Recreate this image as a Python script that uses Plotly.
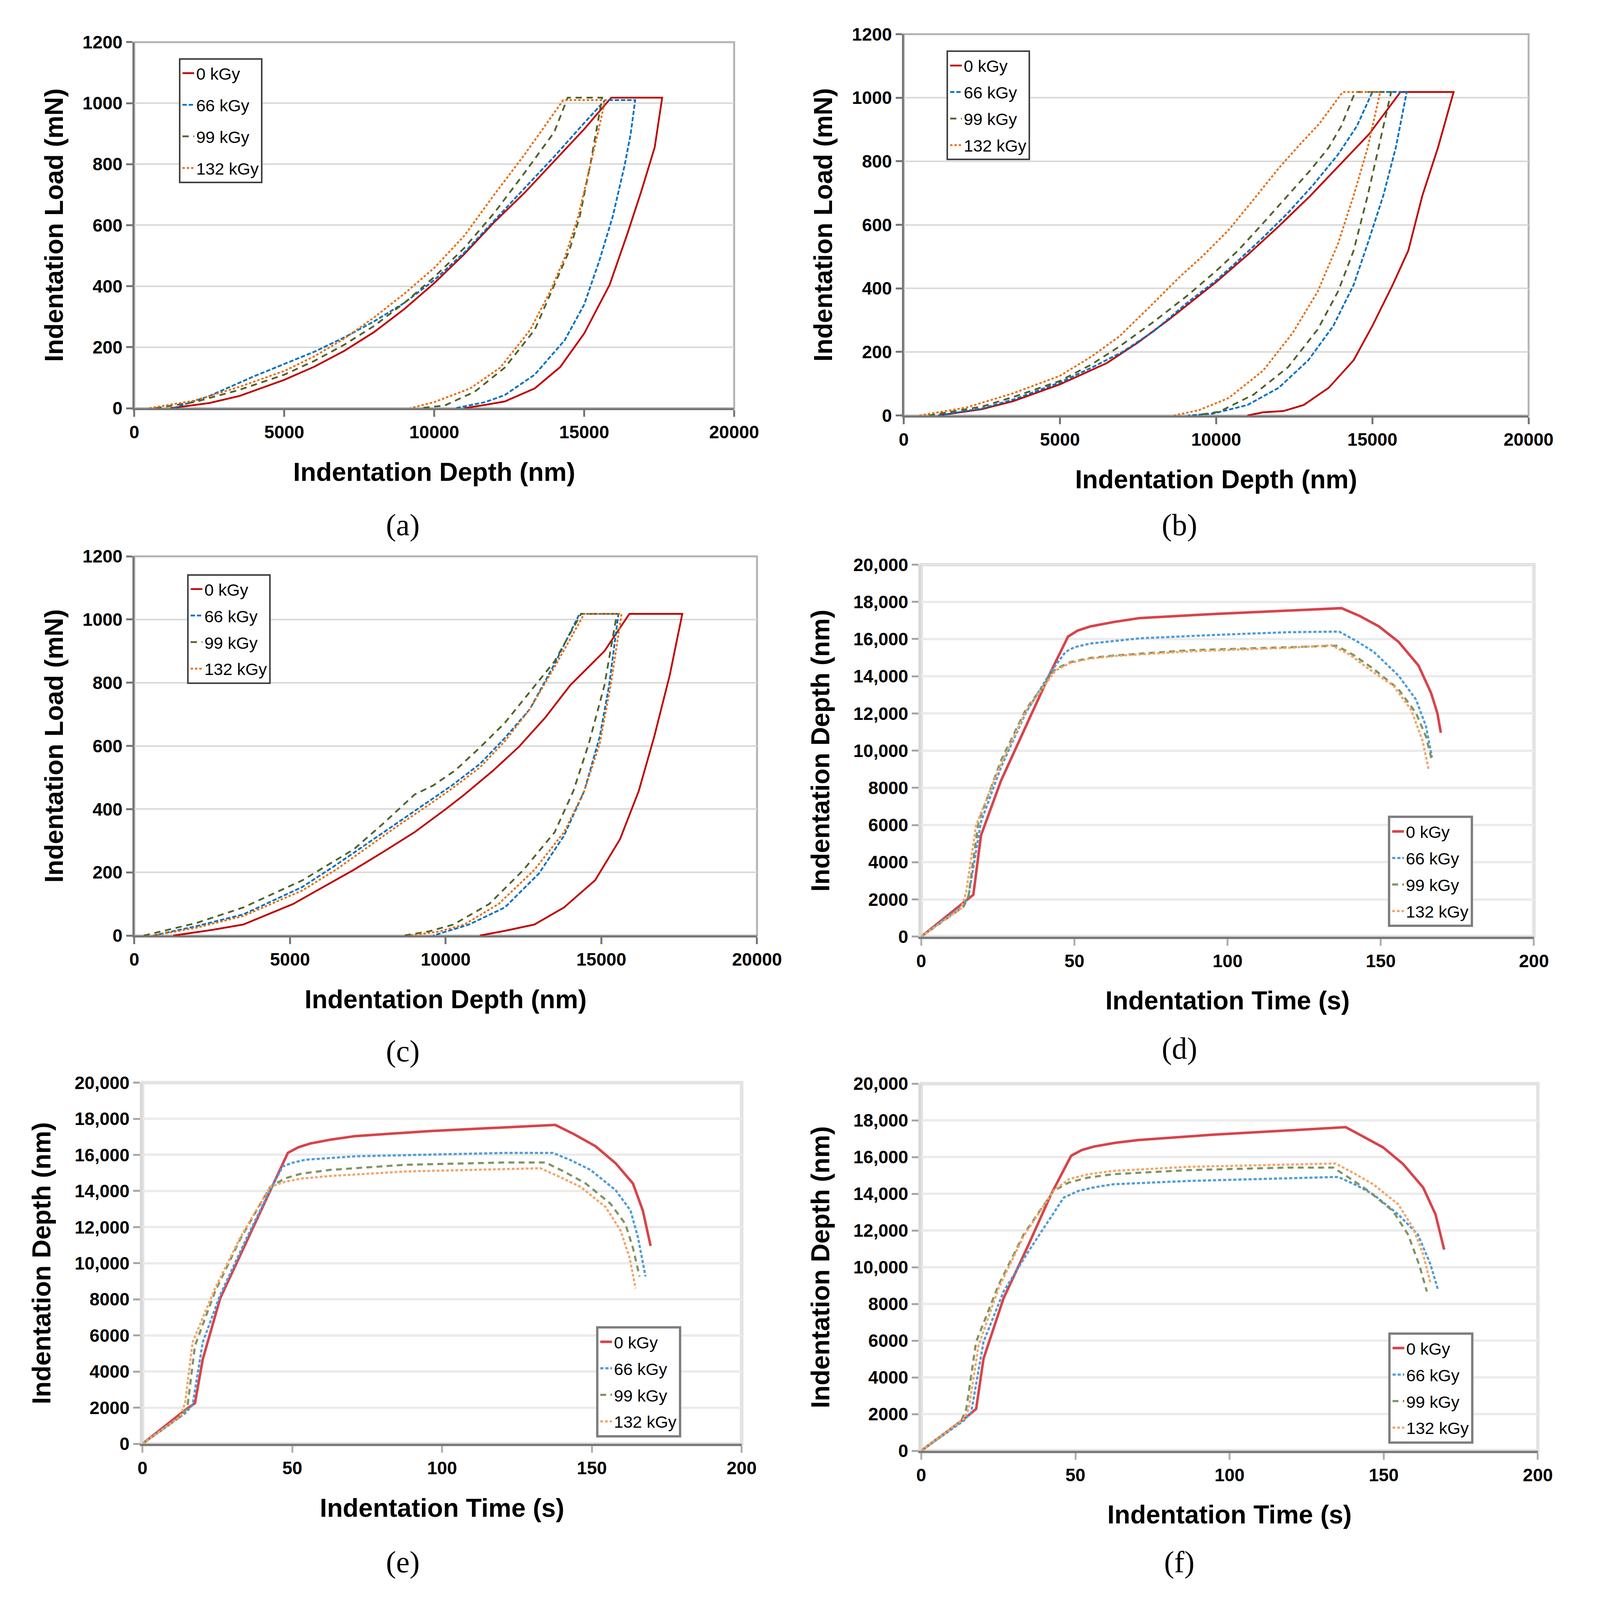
import plotly.graph_objects as go

# ---------------------------------------------------------------- data
DOSES = ["0 kGy", "66 kGy", "99 kGy", "132 kGy"]
CAPTIONS = ["(a)", "(b)", "(c)", "(d)", "(e)", "(f)"]

X_TITLE_DEPTH = "Indentation Depth (nm)"
Y_TITLE_LOAD = "Indentation Load (mN)"
X_TITLE_TIME = "Indentation Time (s)"
Y_TITLE_DEPTH = "Indentation Depth (nm)"

DEPTH_TICKS = [0, 5000, 10000, 15000, 20000]
DEPTH_TICK_LABELS = ["0", "5000", "10000", "15000", "20000"]
LOAD_TICKS = [0, 200, 400, 600, 800, 1000, 1200]
LOAD_TICK_LABELS = ["0", "200", "400", "600", "800", "1000", "1200"]
TIME_TICKS = [0, 50, 100, 150, 200]
TIME_TICK_LABELS = ["0", "50", "100", "150", "200"]
TDEPTH_TICKS = [0, 2000, 4000, 6000, 8000, 10000, 12000, 14000, 16000, 18000, 20000]
TDEPTH_TICK_LABELS = ["0", "2000", "4000", "6000", "8000", "10,000", "12,000",
                      "14,000", "16,000", "18,000", "20,000"]

# (a) load (mN) vs depth (nm)
A_D0 = [1200, 2500, 3500, 5000, 6000, 7000, 8000, 9000, 10000, 11000, 12000, 13000, 14000, 15000, 15900,
        17600, 17350, 16900, 16450, 15850, 15000, 14200, 13350, 12350, 11700, 11000]
A_L0 = [0, 17, 40, 93, 136, 188, 250, 325, 410, 505, 610, 705, 810, 915, 1018,
        1018, 855, 710, 575, 405, 245, 135, 65, 22, 11, 0]
A_D66 = [1300, 2500, 4000, 5000, 6000, 7000, 8000, 9000, 10000, 11000, 12000, 13000, 14000, 15000, 15700,
         16700, 16550, 16350, 15950, 15500, 15000, 14350, 13350, 12350, 11700, 10700]
A_L66 = [0, 40, 105, 145, 185, 232, 285, 345, 420, 510, 615, 720, 825, 935, 1010,
         1010, 900, 797, 628, 482, 340, 223, 110, 43, 20, 0]
A_D99 = [700, 2000, 3500, 5000, 6000, 7000, 8000, 9000, 10000, 11000, 12000, 13000, 14000, 14450,
         15600, 15400, 15200, 14850, 14500, 14000, 13350, 12350, 11350, 10350, 9500]
A_L99 = [0, 20, 60, 110, 155, 208, 270, 345, 430, 525, 640, 770, 905, 1018,
         1018, 910, 797, 628, 516, 403, 257, 133, 54, 9, 0]
A_D132 = [500, 2000, 3500, 5000, 6000, 7000, 8000, 9000, 10000, 11000, 12000, 13000, 14300,
          15700, 15450, 15200, 14800, 14350, 13850, 13200, 12200, 11200, 10000, 9200]
A_L132 = [0, 25, 70, 122, 170, 228, 298, 375, 460, 565, 700, 830, 1010,
          1010, 900, 797, 628, 493, 380, 257, 133, 65, 20, 0]

# (b)
B_D0 = [1100, 2500, 3500, 5000, 6500, 7500, 8500, 9000, 10000, 11000, 12000, 13000, 13900, 14900, 15900,
        17600, 17100, 16600, 16150, 15650, 15000, 14400, 13600, 12800, 12150, 11500, 11000]
B_L0 = [0, 20, 45, 98, 165, 230, 303, 342, 420, 505, 595, 690, 783, 886, 1018,
        1018, 843, 692, 519, 411, 282, 174, 87, 33, 14, 10, 0]
B_D66 = [1100, 2500, 3500, 5000, 6000, 7000, 8000, 9100, 10000, 10700, 11500, 12300, 13100, 13900, 14500, 15000,
         16100, 15750, 15350, 14850, 14400, 13750, 12950, 12000, 11000, 9900, 9100]
B_L66 = [0, 22, 50, 104, 150, 200, 265, 357, 425, 487, 560, 638, 725, 821, 910, 1018,
         1018, 843, 692, 541, 411, 282, 174, 87, 33, 6, 0]
B_D99 = [800, 2500, 3500, 5000, 6000, 6900, 8000, 9100, 10000, 10700, 11500, 12300, 13000, 13600, 14000, 14450,
         15600, 15200, 14850, 14400, 13900, 13250, 12300, 11200, 10100, 9300]
B_L99 = [0, 28, 58, 109, 160, 217, 295, 379, 455, 519, 605, 692, 770, 843, 910, 1018,
         1018, 843, 692, 519, 390, 271, 152, 66, 12, 0]
B_D132 = [500, 2000, 3500, 5000, 6000, 6900, 7800, 8800, 9600, 10400, 11200, 12000, 12700, 13300, 14050,
          15250, 14850, 14400, 13900, 13250, 12450, 11500, 10400, 9450, 8650]
B_L132 = [0, 25, 70, 125, 185, 249, 335, 433, 505, 584, 680, 778, 855, 918, 1018,
          1018, 843, 692, 541, 390, 260, 141, 55, 17, 0]

# (c)
C_D0 = [1250, 2500, 3500, 5100, 6000, 7050, 8000, 9000, 10000, 10600, 11500, 12350, 13200, 14000, 15100, 15900,
        17600, 17200, 16700, 16200, 15600, 14800, 13800, 12850, 11900, 11100]
C_L0 = [0, 18, 35, 100, 150, 208, 265, 327, 400, 446, 520, 597, 690, 792, 900, 1018,
        1018, 825, 630, 457, 305, 175, 89, 35, 15, 0]
C_D66 = [600, 2000, 3500, 5400, 6500, 7850, 8500, 9450, 10200, 11100, 11900, 12700, 13500, 14300,
         15550, 15250, 14950, 14450, 13800, 13000, 11900, 10750, 9600]
C_L66 = [0, 30, 67, 154, 225, 316, 360, 424, 475, 543, 625, 716, 860, 1018,
         1018, 792, 630, 457, 316, 197, 89, 35, 0]
C_D99 = [300, 2000, 3500, 5400, 7050, 8000, 9000, 9600, 10300, 11100, 11900, 12700, 13500, 14350,
         15500, 15100, 14600, 14100, 13500, 12500, 11400, 10250, 9450, 8650]
C_L99 = [0, 40, 89, 175, 273, 355, 446, 475, 522, 595, 673, 770, 868, 1018,
         1018, 792, 608, 457, 327, 208, 100, 35, 13, 0]
C_D132 = [600, 2000, 3500, 5400, 6500, 7850, 8500, 9450, 10200, 11100, 11900, 12700, 13500, 14450,
          15650, 15300, 14950, 14450, 13800, 12850, 11700, 10600, 9800, 8800]
C_L132 = [0, 25, 62, 143, 210, 305, 350, 413, 465, 532, 615, 716, 850, 1018,
          1018, 792, 608, 457, 327, 208, 100, 35, 13, 0]

# (d) depth (nm) vs time (s)
D_T0 = [0, 14.6, 17.0, 19.5, 26.0, 34.1, 42.2, 47.9, 51, 55.2, 63, 71.4, 95.8, 120.1, 137.2,
        143, 149.4, 155.8, 162.3, 166.4, 168.5, 169.6]
D_H0 = [0, 1970, 2250, 5440, 8370, 11290, 14210, 16130, 16450, 16680, 16920, 17130, 17350, 17530, 17660,
        17250, 16680, 15850, 14580, 13110, 12000, 10960]
D_T66 = [0, 13.8, 15.4, 19.5, 26.0, 34.1, 42.2, 47.1, 50, 55.2, 71.4, 95.8, 120.1, 136.4,
         142, 147.7, 155.8, 161.5, 164.8, 166.7]
D_H66 = [0, 1700, 2160, 6170, 9100, 12020, 14210, 15310, 15560, 15760, 16040, 16220, 16370, 16400,
         15900, 15310, 14030, 12750, 11290, 9640]
D_T99 = [0, 13.8, 15.4, 18.7, 26.0, 34.1, 43.8, 48.7, 55, 63.3, 87.7, 120.1, 135.6,
         141, 147.7, 155.8, 161.5, 164.8, 166.7]
D_H99 = [0, 1610, 2160, 6170, 9460, 12200, 14390, 14760, 14980, 15120, 15400, 15560, 15640,
         15150, 14390, 13300, 12020, 10740, 9460]
D_T132 = [0, 13.0, 14.6, 17.9, 26.0, 34.1, 43.8, 48.7, 55, 63.3, 87.7, 120.1, 133.9,
          140, 146.1, 154.2, 159.9, 163.6, 165.6]
D_H132 = [0, 1520, 2340, 5990, 9280, 12110, 14300, 14720, 14950, 15090, 15340, 15530, 15670,
          15150, 14390, 13480, 12200, 10560, 9010]

# (e)
E_T0 = [0, 14.2, 17.5, 20.1, 25.9, 34.3, 42.6, 48.5, 52, 56.0, 63, 71.0, 96.1, 121.1, 137.8,
        144, 151.2, 157.9, 163.7, 167.0, 169.6]
E_H0 = [0, 1870, 2250, 4680, 8050, 11050, 14050, 16110, 16420, 16630, 16850, 17040, 17320, 17510, 17660,
        17150, 16480, 15540, 14420, 12920, 10960]
E_T66 = [0, 14.2, 16.7, 20.1, 25.9, 34.3, 42.6, 46.8, 50, 54.3, 71.0, 96.1, 121.1, 137.0,
         143, 149.5, 157.9, 162.9, 165.4, 167.9]
E_H66 = [0, 1690, 2150, 5620, 8240, 11240, 14050, 15360, 15560, 15730, 15920, 16010, 16110, 16110,
         15700, 15170, 14050, 12920, 11420, 9270]
E_T99 = [0, 13.4, 15.0, 17.5, 24.2, 32.6, 42.6, 47.6, 53, 62.7, 87.7, 121.1, 134.5,
         141, 147.9, 156.2, 161.2, 163.7, 165.9]
E_H99 = [0, 1590, 2060, 5430, 8430, 11330, 14230, 14700, 14960, 15170, 15450, 15580, 15580,
         15050, 14420, 13300, 12170, 10860, 9270]
E_T132 = [0, 12.5, 14.2, 16.7, 24.2, 32.6, 42.6, 47.6, 53, 62.7, 87.7, 121.1, 132.8,
          139, 146.2, 154.6, 159.6, 162.6, 164.6]
E_H132 = [0, 1500, 2250, 5620, 8610, 11420, 14230, 14510, 14690, 14830, 15080, 15210, 15260,
          14800, 14230, 13110, 11800, 10300, 8610]

# (f)
F_T0 = [0, 14.6, 17.8, 20.2, 26.7, 34.8, 42.1, 48.6, 52, 55.9, 63, 70.4, 94.7, 119.0, 137.7,
        143, 149.8, 156.3, 162.8, 166.8, 169.6]
F_H0 = [0, 1830, 2280, 5020, 8310, 11230, 13970, 16070, 16380, 16570, 16780, 16930, 17220, 17440, 17630,
        17150, 16530, 15620, 14340, 12880, 10960]
F_T66 = [0, 13.8, 16.2, 20.2, 26.7, 34.8, 46.2, 51.0, 56, 62.3, 86.6, 119.0, 135.2,
         141, 146.6, 154.7, 161.1, 165.2, 167.6]
F_H66 = [0, 1640, 2100, 5940, 8680, 10870, 13790, 14160, 14350, 14520, 14700, 14850, 14920,
         14480, 13970, 12880, 11780, 10140, 8770]
F_T99 = [0, 13.0, 14.6, 17.8, 25.1, 33.2, 42.9, 47.8, 54, 62.3, 86.6, 119.0, 133.6,
         139, 145.0, 153.0, 157.9, 161.5, 164.0]
F_H99 = [0, 1640, 2280, 5940, 9040, 11780, 14160, 14610, 14880, 15070, 15290, 15430, 15430,
         14850, 14160, 13060, 11780, 10140, 8680]
F_T132 = [0, 13.8, 15.4, 18.6, 25.1, 33.2, 42.9, 47.8, 54, 62.3, 86.6, 119.0, 134.4,
          140, 146.6, 154.7, 159.5, 162.8, 165.2]
F_H132 = [0, 1740, 2280, 5750, 8860, 11690, 14160, 14790, 15060, 15250, 15470, 15580, 15650,
          15150, 14520, 13430, 12150, 10690, 9130]

PANEL_SERIES = [
    [(A_D0, A_L0), (A_D66, A_L66), (A_D99, A_L99), (A_D132, A_L132)],
    [(B_D0, B_L0), (B_D66, B_L66), (B_D99, B_L99), (B_D132, B_L132)],
    [(C_D0, C_L0), (C_D66, C_L66), (C_D99, C_L99), (C_D132, C_L132)],
    [(D_T0, D_H0), (D_T66, D_H66), (D_T99, D_H99), (D_T132, D_H132)],
    [(E_T0, E_H0), (E_T66, E_H66), (E_T99, E_H99), (E_T132, E_H132)],
    [(F_T0, F_H0), (F_T66, F_H66), (F_T99, F_H99), (F_T132, F_H132)],
]

# ---------------------------------------------------------------- styling
# layout positions are measured on the 4397 x 4544 reference and used as fractions,
# so the figure fills whatever window it is shown in.
W, H = 4397, 4544
SANS = "Liberation Sans, Arial, sans-serif"
SERIF = "Liberation Serif, Times New Roman, serif"

STYLE_LD = [dict(color="#C00000", width=4.5, dash="solid"),
            dict(color="#0070C0", width=4.5, dash="11px,5px"),
            dict(color="#4F6228", width=4.5, dash="16px,12px"),
            dict(color="#E46C0A", width=4.5, dash="6px,5px")]
STYLE_TD = [dict(color="#D9434A", width=6.5, dash="solid"),
            dict(color="#4E9CD8", width=5.5, dash="8px,5px"),
            dict(color="#7F9561", width=5.5, dash="15px,11px"),
            dict(color="#F3A56A", width=5.5, dash="7px,5px")]


def px_dom_x(a, b):
    return [a / W, b / W]


def px_dom_y(top, bottom):
    return [1 - bottom / H, 1 - top / H]


# plot-area boxes in reference pixels (left, right, top, bottom)
BOXES = [(362, 2042, 92, 1145), (2517, 4267, 69, 1166), (362, 2106, 1571, 2662),
         (2566, 4282, 1595, 2665), (385, 2063, 3085, 4124), (2566, 4293, 3088, 4144)]
LEGEND_POS = [(487, 138), (2637, 116), (510, 1622), (3873, 2317), (1655, 3785), (3874, 3803)]
CAPTION_POS = [(1114, 1480), (3289, 1480), (1114, 2994), (3289, 2986), (1114, 4464), (3289, 4464)]

fig = go.Figure()
layout = dict(autosize=True, margin=dict(l=0, r=0, t=0, b=0),
              paper_bgcolor="white", plot_bgcolor="white", showlegend=True,
              shapes=[], annotations=[])

tickfont = dict(family=SANS, size=46, color="black", weight="bold")
titlefont = dict(family=SANS, size=66, color="black", weight="bold")

for p in range(6):
    n = p + 1
    sfx = "" if n == 1 else str(n)
    xa, ya = "x" + sfx, "y" + sfx
    leg = "legend" + sfx
    time_panel = p >= 3
    styles = STYLE_TD if time_panel else STYLE_LD
    for k, (xs, ys) in enumerate(PANEL_SERIES[p]):
        fig.add_trace(go.Scatter(x=xs, y=ys, mode="lines", name=DOSES[k],
                                 line=styles[k], xaxis=xa, yaxis=ya, legend=leg,
                                 legendgroup=f"p{n}s{k}", hoverinfo="x+y+name"))
    l, r, t, b = BOXES[p]
    if time_panel:
        xaxis = dict(domain=px_dom_x(l, r), anchor=ya, range=[0, 200],
                     tickvals=TIME_TICKS, ticktext=TIME_TICK_LABELS,
                     showline=True, linecolor="#7A7A7A", linewidth=6,
                     ticks="outside", ticklen=17, tickwidth=5, tickcolor="#B0B0B0",
                     showgrid=False, zeroline=False, tickfont=tickfont,
                     title=dict(text=X_TITLE_TIME, font=titlefont, standoff=55))
        yaxis = dict(domain=px_dom_y(t, b), anchor=xa, range=[0, 20000],
                     tickvals=TDEPTH_TICKS, ticktext=TDEPTH_TICK_LABELS,
                     showline=True, linecolor="#D9D9D9", linewidth=7,
                     ticks="outside", ticklen=17, tickwidth=5, tickcolor="#A6A6A6",
                     showgrid=True, gridcolor="#EBEBEB", gridwidth=6, zeroline=False,
                     tickfont=tickfont,
                     title=dict(text=Y_TITLE_DEPTH, font=titlefont, standoff=42))
        box_line = dict(color="#E3E3E3", width=9)
        legend = dict(bordercolor="#7F7F7F", borderwidth=6, tracegroupgap=9)
    else:
        xaxis = dict(domain=px_dom_x(l, r), anchor=ya, range=[0, 20000],
                     tickvals=DEPTH_TICKS, ticktext=DEPTH_TICK_LABELS,
                     showline=True, linecolor="#767676", linewidth=5,
                     ticks="outside", ticklen=17, tickwidth=5, tickcolor="#767676",
                     showgrid=False, zeroline=False, tickfont=tickfont,
                     title=dict(text=X_TITLE_DEPTH, font=titlefont, standoff=55))
        yaxis = dict(domain=px_dom_y(t, b), anchor=xa, range=[0, 1200],
                     tickvals=LOAD_TICKS, ticktext=LOAD_TICK_LABELS,
                     showline=True, linecolor="#767676", linewidth=5,
                     ticks="outside", ticklen=16, tickwidth=5, tickcolor="#767676",
                     showgrid=True, gridcolor="#D9D9D9", gridwidth=4, zeroline=False,
                     tickfont=tickfont,
                     title=dict(text=Y_TITLE_LOAD, font=titlefont, standoff=30))
        box_line = dict(color="#B4B4B4", width=5)
        legend = dict(bordercolor="#404040", borderwidth=4,
                      tracegroupgap=22 if p == 0 else 9)
    layout["xaxis" + sfx] = xaxis
    layout["yaxis" + sfx] = yaxis
    lx, ly = LEGEND_POS[p]
    legend.update(x=lx / W, y=1 - ly / H, xanchor="left", yanchor="top",
                  xref="paper", yref="paper", bgcolor="white",
                  font=dict(family=SANS, size=43, color="black"),
                  traceorder="grouped", itemwidth=30)
    layout[leg] = legend
    layout["shapes"].append(dict(type="rect", xref=xa + " domain", yref=ya + " domain",
                                 x0=0, x1=1, y0=0, y1=1, line=box_line, layer="below"))
    cx, cy = CAPTION_POS[p]
    layout["annotations"].append(dict(text=CAPTIONS[p], xref="paper", yref="paper",
                                      x=cx / W, y=1 - cy / H, showarrow=False,
                                      xanchor="center", yanchor="middle",
                                      font=dict(family=SERIF, size=78, color="black")))

fig.update_layout(**layout)
fig.write_html("out.html", default_width="100vw", default_height="100vh",
               config={"responsive": True, "displayModeBar": False},
               post_script="document.body.style.margin='0';document.body.style.overflow='hidden';")
